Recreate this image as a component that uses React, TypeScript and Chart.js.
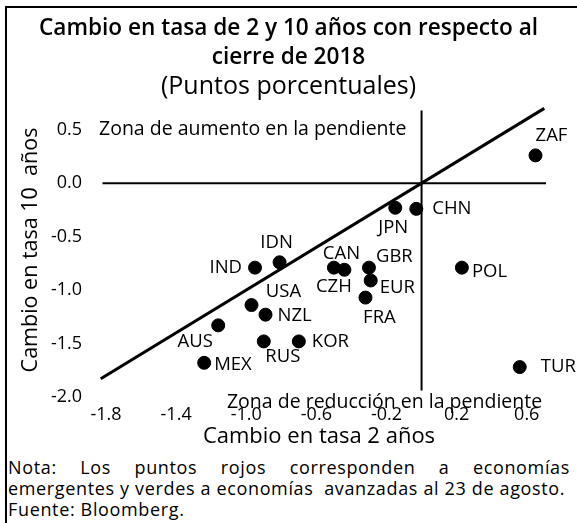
import React, { useEffect, useRef } from "react";
import { Chart, registerables } from "chart.js";

Chart.register(...registerables);

// ---- Data ----
const countries = ["JPN", "CHN", "IND", "IDN", "CZH", "CAN", "GBR", "EUR", "FRA", "USA", "NZL", "AUS", "RUS", "KOR", "MEX", "POL", "ZAF", "TUR"];
const change2y = [-0.15, -0.03, -0.95, -0.81, -0.5, -0.44, -0.3, -0.29, -0.32, -0.97, -0.89, -1.16, -0.9, -0.7, -1.24, 0.23, 0.65, 0.56];
const change10y = [-0.23, -0.24, -0.79, -0.74, -0.79, -0.81, -0.79, -0.91, -1.07, -1.14, -1.23, -1.33, -1.48, -1.48, -1.68, -0.79, 0.26, -1.72];

const xTickValues = [-1.8, -1.4, -1.0, -0.6, -0.2, 0.2, 0.6];
const yTickValues = [0.5, 0.0, -0.5, -1.0, -1.5, -2.0];

// reference lines (data units)
const diagX = [-1.83, 0.7];
const diagY = [-1.83, 0.7];
const hLineX = [-1.82, 0.71];
const hLineY = [0, 0];
const vLineX = [0, 0];
const vLineY = [0.68, -1.94];

const titleLines = ["Cambio en tasa de 2 y 10 años con respecto al", "cierre de 2018"];
const subtitleText = "(Puntos porcentuales)";
const xTitle = "Cambio en tasa 2 años";
const yTitle = "Cambio en tasa 10  años";
const zoneUp = "Zona de aumento en la pendiente";
const zoneDown = "Zona de reducción en la pendiente";
const noteLine1 = "Nota: Los puntos rojos corresponden a economías";
const noteLine2 = "emergentes y verdes a economías  avanzadas al 23 de agosto.";
const sourceLine = "Fuente: Bloomberg.";

// ---- Styles ----
const FONT = "'Open Sans', sans-serif";
const labelStyle: Record<string, { align: CanvasTextAlign; dx: number; dy: number }> = {
  JPN: { align: "center", dx: -2, dy: 20 },
  CHN: { align: "left", dx: 16, dy: 0 },
  IND: { align: "right", dx: -13, dy: 0 },
  IDN: { align: "center", dx: -3, dy: -20 },
  CZH: { align: "center", dx: 0, dy: 19 },
  CAN: { align: "center", dx: -3, dy: -16 },
  GBR: { align: "left", dx: 7, dy: -11 },
  EUR: { align: "left", dx: 9, dy: 7 },
  FRA: { align: "center", dx: 14, dy: 20 },
  USA: { align: "center", dx: 32, dy: -13 },
  NZL: { align: "left", dx: 12, dy: 1 },
  AUS: { align: "center", dx: -23, dy: 16 },
  RUS: { align: "center", dx: 19, dy: 15 },
  KOR: { align: "left", dx: 13, dy: 0 },
  MEX: { align: "left", dx: 10, dy: 2 },
  POL: { align: "left", dx: 10, dy: 4 },
  ZAF: { align: "center", dx: 16, dy: -20 },
  TUR: { align: "left", dx: 21, dy: 0 },
};
const zoneAnchors = [
  { text: zoneUp, x: -1.84, y: 0.5 },
  { text: zoneDown, x: -1.11, y: -2.05 },
];

const labelsPlugin = {
  id: "pointLabels",
  afterDatasetsDraw(chart: any) {
    const { ctx, scales } = chart;
    const xs = scales.x;
    const ys = scales.y;
    ctx.save();
    ctx.fillStyle = "#000";
    ctx.textBaseline = "middle";
    ctx.font = `18.5px ${FONT}`;
    countries.forEach((c, i) => {
      const s = labelStyle[c];
      const px = xs.getPixelForValue(change2y[i]);
      const py = ys.getPixelForValue(change10y[i]);
      ctx.textAlign = s.align;
      ctx.fillText(c, px + s.dx, py + s.dy);
    });
    ctx.font = `19.5px ${FONT}`;
    ctx.textAlign = "left";
    zoneAnchors.forEach((z) => {
      ctx.fillText(z.text, xs.getPixelForValue(z.x), ys.getPixelForValue(z.y));
    });
    ctx.restore();
  },
};

export default function App() {
  const ref = useRef<HTMLCanvasElement>(null);

  useEffect(() => {
    if (!ref.current) return;
    const lineDs = (xs: number[], ys: number[], w: number) => ({
      type: "line" as const,
      data: xs.map((v, i) => ({ x: v, y: ys[i] })),
      borderColor: "#000",
      borderWidth: w,
      pointRadius: 0,
      showLine: true,
      fill: false,
      clip: false as any,
    });
    const chart = new Chart(ref.current, {
      type: "scatter",
      data: {
        datasets: [
          {
            data: countries.map((c, i) => ({ x: change2y[i], y: change10y[i] })),
            backgroundColor: "#000",
            borderColor: "#000",
            pointRadius: 6.5,
            clip: false as any,
          } as any,
          lineDs(diagX, diagY, 3) as any,
          lineDs(hLineX, hLineY, 2) as any,
          lineDs(vLineX, vLineY, 2) as any,
        ],
      },
      options: {
        animation: false,
        responsive: false,
        events: [],
        layout: { padding: { left: 0, right: 0, top: 0, bottom: 0 } },
        plugins: {
          legend: { display: false },
          tooltip: { enabled: false },
          title: {
            display: true,
            text: titleLines,
            color: "#000",
            font: { family: FONT, size: 22.6, weight: 600 as any, lineHeight: 29 / 22.6 },
            padding: { top: 14.5, bottom: 0 },
          },
          subtitle: {
            display: true,
            text: subtitleText,
            color: "#000",
            font: { family: FONT, size: 25, weight: 400 as any, lineHeight: 29 / 25 },
            padding: { top: 0, bottom: 1.5 },
          },
        },
        scales: {
          x: {
            type: "linear",
            min: -1.8,
            max: 0.63,
            grid: { display: false, drawTicks: false },
            border: { display: false },
            afterBuildTicks: (axis: any) => {
              axis.ticks = xTickValues.map((v) => ({ value: v }));
            },
            afterFit: (scale: any) => {
              scale.height = 58;
            },
            ticks: {
              color: "#000",
              padding: 7,
              font: { family: FONT, size: 18 },
              callback: (v: any) => Number(v).toFixed(1),
            },
            title: {
              display: true,
              text: xTitle,
              color: "#000",
              font: { family: FONT, size: 22, lineHeight: 1.2 },
              padding: { top: 0, bottom: 4.8 },
            },
          },
          y: {
            type: "linear",
            min: -2.0,
            max: 0.75,
            grid: { display: false, drawTicks: false },
            border: { display: false },
            afterBuildTicks: (axis: any) => {
              axis.ticks = yTickValues.map((v) => ({ value: v }));
            },
            afterFit: (scale: any) => {
              scale.width = 106;
            },
            ticks: {
              color: "#000",
              padding: 24,
              font: { family: FONT, size: 18 },
              callback: (v: any) => Number(v).toFixed(1),
            },
            title: {
              display: true,
              text: yTitle,
              color: "#000",
              font: { family: FONT, size: 21.5, lineHeight: 1.2 },
              padding: { top: 18, bottom: 0 },
            },
          },
          yRight: {
            type: "linear",
            position: "right",
            display: true,
            min: 0,
            max: 1,
            grid: { display: false, drawTicks: false },
            border: { display: false },
            ticks: { display: false },
            afterFit: (scale: any) => {
              scale.width = 45;
            },
          },
        },
      },
      plugins: [labelsPlugin],
    });
    return () => chart.destroy();
  }, []);

  return (
    <div style={{ position: "absolute", left: 0, top: 0, width: 577, height: 523, background: "#fff", overflow: "hidden" }}>
      <div
        style={{
          position: "absolute",
          left: 5,
          top: 6,
          width: 580,
          height: 530,
          borderTop: "2px solid #000",
          borderLeft: "2px solid #000",
          boxSizing: "border-box",
        }}
      />
      <canvas ref={ref} width={577} height={455} style={{ position: "absolute", left: 0, top: 0, display: "block" }} />
      <div
        style={{
          position: "absolute",
          left: 8,
          top: 457,
          width: 562,
          fontFamily: FONT,
          fontSize: 18,
          letterSpacing: "0.65px",
          lineHeight: "21px",
          color: "#000",
        }}
      >
        <div style={{ textAlign: "justify", textAlignLast: "justify" as any, whiteSpace: "nowrap" }}>{noteLine1}</div>
        <div style={{ whiteSpace: "pre" }}>{noteLine2}</div>
        <div>{sourceLine}</div>
      </div>
    </div>
  );
}
